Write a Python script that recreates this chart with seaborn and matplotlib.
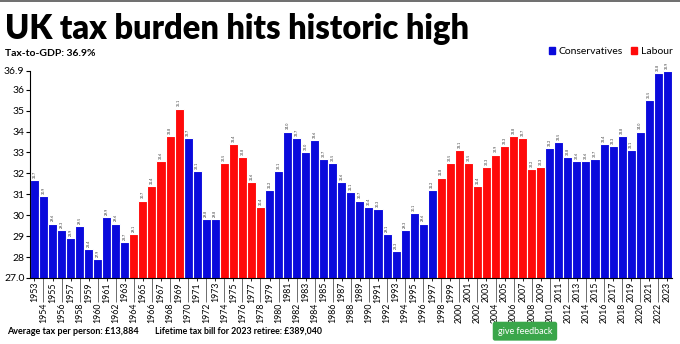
import matplotlib
matplotlib.use("Agg")
import matplotlib.pyplot as plt
import seaborn as sns
import pandas as pd
from matplotlib.patches import Patch

# Data
years = list(range(1953, 2024))
tax_to_gdp = [
    31.7, 30.9, 29.6, 29.3, 28.9, 29.5, 28.4, 27.9, 29.9, 29.6, 28.7,   # 1953-1963
    29.1, 30.7, 31.4, 32.6, 33.8, 35.1,                                 # 1964-1969
    33.7, 32.1, 29.8, 29.8,                                             # 1970-1973
    32.5, 33.4, 32.8, 31.6, 30.4,                                       # 1974-1978
    31.2, 32.1, 34.0, 33.7, 33.0, 33.6, 32.7, 32.5, 31.6, 31.1,         # 1979-1988
    30.7, 30.4, 30.3, 29.1, 28.3, 29.3, 30.1, 29.6, 31.2,               # 1989-1997
    31.8, 32.5, 33.1, 32.5, 31.4, 32.3, 32.9, 33.3, 33.8, 33.7,         # 1998-2007
    32.2, 32.3,                                                         # 2008-2009
    33.2, 33.5, 32.8, 32.6, 32.6, 32.7, 33.4, 33.3, 33.8, 33.1,         # 2010-2019
    34.0, 35.5, 36.8, 36.9,                                             # 2020-2023
]
labour_years = list(range(1964, 1970)) + list(range(1974, 1979)) + list(range(1998, 2010))
party = ['Labour' if y in labour_years else 'Conservatives' for y in years]

df = pd.DataFrame({'year': [str(y) for y in years], 'tax': tax_to_gdp, 'party': party})

# Parameters
blue = '#0a0adc'
red = '#ff0a0a'
palette = {'Conservatives': blue, 'Labour': red}
font = 'Lato'
plt.rcParams['font.family'] = [font, 'DejaVu Sans']

fig = plt.figure(figsize=(6.8, 3.44), dpi=100)
ax = fig.add_axes([0.044, 0.192, 0.944, 0.602])

sns.barplot(data=df, x='year', y='tax', hue='party', palette=palette, ax=ax,
            width=1.0, edgecolor='white', linewidth=0.8, saturation=1, legend=False)

for cont in ax.containers:
    ax.bar_label(cont, fmt='%.1f', rotation=90, fontsize=2.6, padding=1.5, color='#333333')

ax.set_ylim(27.0, 36.9)
ax.set_xlim(-0.5, len(years) - 0.5)
yticks = [27, 28, 29, 30, 31, 32, 33, 34, 35, 36, 36.9]
ylabels = ['27.0', '28', '29', '30', '31', '32', '33', '34', '35', '36', '36.9']
ax.set_yticks(yticks, ylabels)
ax.tick_params(axis='y', labelsize=7.5, length=3, pad=1)

# staggered year labels: odd years on top row, even years below with long ticks
odd_pos = [i for i, y in enumerate(years) if y % 2 == 1]
even_pos = [i for i, y in enumerate(years) if y % 2 == 0]
ax.set_xticks(odd_pos, [str(years[i]) for i in odd_pos], rotation=90)
ax.set_xticks(even_pos, [str(years[i]) for i in even_pos], minor=True, rotation=90)
ax.tick_params(axis='x', which='major', length=2, pad=1, labelsize=6.3, width=0.6)
ax.tick_params(axis='x', which='minor', length=17, pad=1, labelsize=6.3, width=0.6, color='#555555')
ax.set_xlabel('')
ax.set_ylabel('')
ax.spines['right'].set_visible(False), ax.spines['top'].set_visible(False)
ax.spines['left'].set_linewidth(0.8)
ax.spines['bottom'].set_linewidth(0.8)

# Titles
fig.text(0.008, 0.888, 'UK tax burden hits historic high', fontsize=23.5, fontweight='heavy',
         ha='left', va='baseline')
fig.text(0.008, 0.836, 'Tax-to-GDP: 36.9%', fontsize=7.5, fontweight='bold', ha='left', va='baseline')

handles = [Patch(color=blue, label='Conservatives'), Patch(color=red, label='Labour')]
fig.legend(handles=handles, loc='upper right', bbox_to_anchor=(0.995, 0.875), ncol=2, frameon=False,
           fontsize=7.5, handlelength=0.6, handleheight=0.6, handletextpad=0.3, columnspacing=0.8,
           borderaxespad=0)

# Footer
fig.text(0.010, 0.03, 'Average tax per person: £13,884', fontsize=6.5, fontweight='bold', va='baseline')
fig.text(0.228, 0.03, 'Lifetime tax bill for 2023 retiree: £389,040', fontsize=6.3, fontweight='bold',
         va='baseline')
fig.text(0.772, 0.03, 'give feedback', fontsize=6.5, color='white', ha='center', va='baseline',
         bbox=dict(boxstyle='round,pad=0.55,rounding_size=0.25', facecolor='#3aa64a', edgecolor='none'))

fig.add_artist(plt.Line2D([0, 1], [0.998, 0.998], color='#555555', lw=1.2))

fig.savefig('out.png', dpi=100)
